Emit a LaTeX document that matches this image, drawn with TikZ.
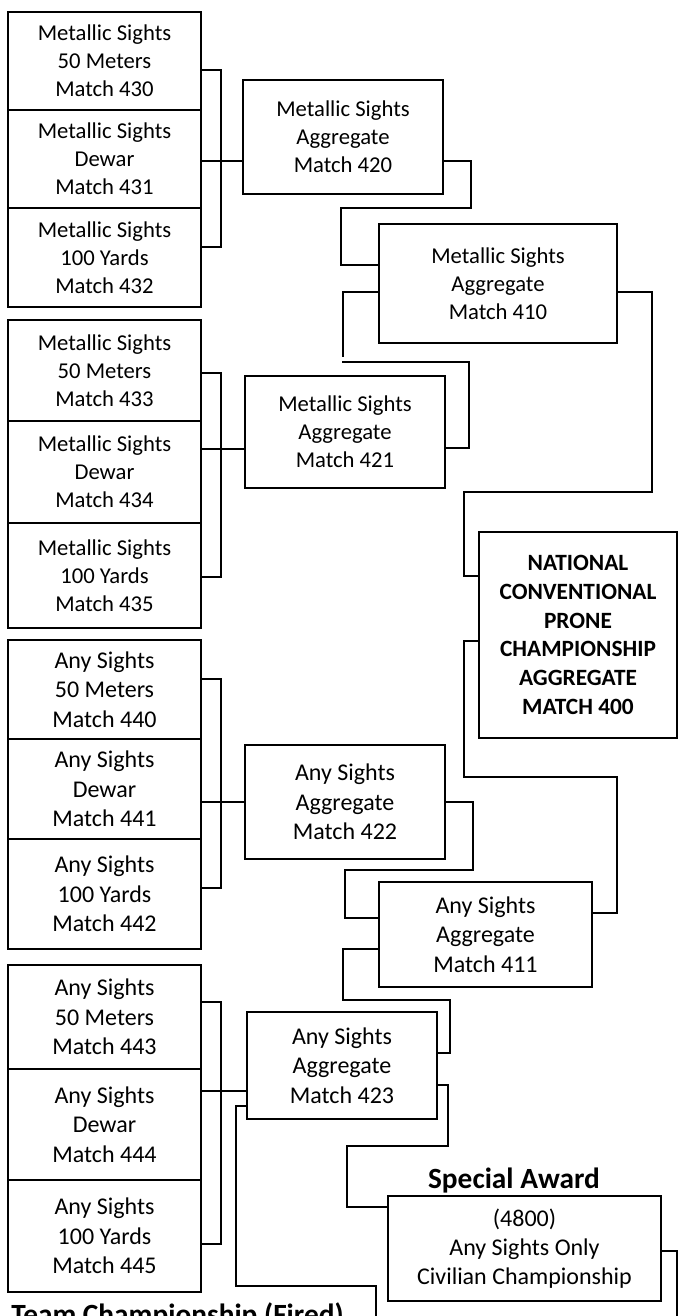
\documentclass[tikz,border=0pt]{standalone}
\usepackage{fontspec}
\setmainfont{Carlito}
\newcommand\colorBox{black}
\newcommand\colorLink{black}
\newcommand\pxUnit{0.75pt}
% box from its left/top and right/bottom corner, in pixels
\newcommand\boxAt[7][]{
	\node[matchBox, #1,
		minimum width={(#5-#3)*\pxUnit}, minimum height={(#6-#4)*\pxUnit}]
		(#2) at ({(#3+#5)/2},{(#4+#6)/2}) {#7};
}

\begin{document}
\begin{tikzpicture}[x=\pxUnit, y=-\pxUnit,
		matchBox/.style={draw=\colorBox, line width=1.3pt, inner sep=0pt, align=center,
			font=\fontsize{17}{21}\selectfont},
		anyBox/.style={font=\fontsize{18}{22}\selectfont},
		titleBox/.style={font=\fontsize{17.5}{21.5}\selectfont\bfseries},
		link/.style={draw=\colorLink, line width=1pt},
		heading/.style={inner sep=0pt, font=\fontsize{22}{26}\selectfont\bfseries}]
	\useasboundingbox[fill=white] (0,0) rectangle (679,1316);

	% single matches
	\foreach \nm/\ya/\yb/\what in {430/12/110/50 Meters, 431/110/208/Dewar, 432/208/307/100 Yards}
		\boxAt{m\nm}{8}{\ya}{201}{\yb}{Metallic Sights\\\what\\Match \nm};
	\foreach \nm/\ya/\yb/\what in {433/320/421/50 Meters, 434/421/523/Dewar, 435/523/628/100 Yards}
		\boxAt{m\nm}{8}{\ya}{201}{\yb}{Metallic Sights\\\what\\Match \nm};
	\foreach \nm/\ya/\yb/\what in {440/640/739/50 Meters, 441/739/839/Dewar, 442/839/949/100 Yards}
		\boxAt[anyBox]{a\nm}{8}{\ya}{201}{\yb}{Any Sights\\\what\\Match \nm};
	\foreach \nm/\ya/\yb/\what in {443/965/1069/50 Meters, 444/1069/1180/Dewar, 445/1180/1292/100 Yards}
		\boxAt[anyBox]{a\nm}{8}{\ya}{201}{\yb}{Any Sights\\\what\\Match \nm};

	% aggregates
	\boxAt{m420}{243}{80}{443}{194}{Metallic Sights\\Aggregate\\Match 420}
	\boxAt{m421}{245}{376}{445}{488}{Metallic Sights\\Aggregate\\Match 421}
	\boxAt{m410}{379}{224}{617}{343}{Metallic Sights\\Aggregate\\Match 410}
	\boxAt[anyBox]{a422}{245}{745}{445}{859}{Any Sights\\Aggregate\\Match 422}
	\boxAt[anyBox]{a423}{247}{1012}{437}{1119}{Any Sights\\Aggregate\\Match 423}
	\boxAt[anyBox]{a411}{379}{882}{592}{987}{Any Sights\\Aggregate\\Match 411}
	\boxAt[titleBox]{nat}{479}{532}{677}{738}{NATIONAL\\CONVENTIONAL\\PRONE\\CHAMPIONSHIP\\AGGREGATE\\MATCH 400}
	\boxAt[anyBox]{spec}{388}{1196}{661}{1301}{(4800)\\Any Sights Only\\Civilian Championship}

	\node[heading, anchor=base] (award) at (514,1188) {Special Award};
	\node[heading, anchor=base west] (team) at (11,1324) {Team Championship (Fired)};

	% brackets
	\foreach \a/\b/\c/\g/\ya/\yb/\yc in {m430/m431/m432/m420/70/161/247,
			m433/m434/m435/m421/373/449/577, a440/a441/a442/a422/679/802/888,
			a443/a444/a445/a423/1002/1091/1244}{
		\draw[link] (\a.east |- 0,\ya) -- (221,\ya) -- (221,\yc) -- (\c.east |- 0,\yc);
		\draw[link] (\b.east |- 0,\yb) -- (\g.west |- 0,\yb);
	}

	\coordinate (gapA) at (343,357);
	\coordinate (gapB) at (342,362);
	\coordinate (teamEnd) at (376,1330);
	\coordinate (awardEnd) at (677,1330);

	\draw[link] (m420.east |- 0,161) -- (471,161) -- (471,208) -- (341,208) -- (341,265) -- (m410.west |- 0,265);
	\draw[link] (m410.west |- 0,292) -- (343,292) -- (gapA);
	\draw[link] (m421.east |- 0,448) -- (469,448) -- (469,362) -- (gapB);
	\draw[link] (m410.east |- 0,292) -- (652,292) -- (652,492) -- (464,492) -- (464,576) -- (nat.west |- 0,576);
	\draw[link] (nat.west |- 0,641) -- (464,641) -- (464,777) -- (617,777) -- (617,913) -- (a411.east |- 0,913);
	\draw[link] (a422.east |- 0,802) -- (473,802) -- (473,870) -- (345,870) -- (345,918) -- (a411.west |- 0,918);
	\draw[link] (a411.west |- 0,949) -- (343,949) -- (343,1000) -- (450,1000) -- (450,1053) -- (a423.east |- 0,1053);
	\draw[link] (a423.east |- 0,1085) -- (448,1085) -- (448,1146) -- (347,1146) -- (347,1207) -- (spec.west |- 0,1207);
	\draw[link] (a423.west |- 0,1106) -- (236,1106) -- (236,1286) -- (376,1286) -- (teamEnd);
	\draw[link] (spec.east |- 0,1251) -- (677,1251) -- (awardEnd);
\end{tikzpicture}
\end{document}
